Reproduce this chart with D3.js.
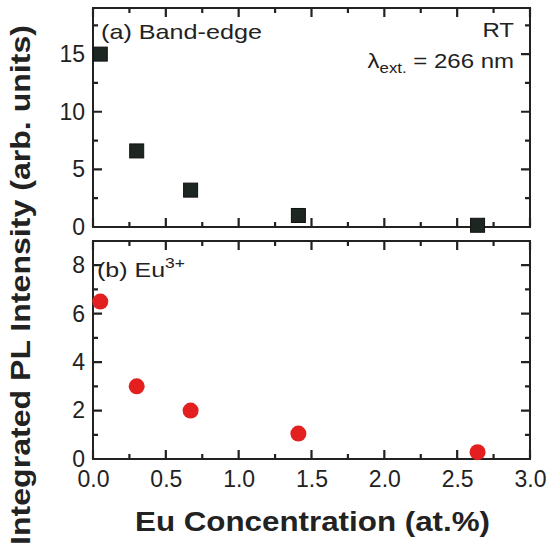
<!DOCTYPE html>
<html>
<head>
<meta charset="utf-8">
<script src="https://cdn.jsdelivr.net/npm/d3@7"></script>
<style>
  body { margin: 0; background: #fff; }
  svg text { font-family: "Liberation Sans", Arial, Helvetica, sans-serif; fill: #222; }
</style>
</head>
<body>
<div id="chart"></div>
<script>
// Eu concentration (at.%) for each sample
const euConc = [0.05, 0.30, 0.67, 1.41, 2.64];
// (a) band-edge integrated PL
const bandEdge = [15.0, 6.6, 3.2, 1.0, 0.15];
// (b) Eu3+ integrated PL
const euEmission = [6.5, 3.0, 2.0, 1.05, 0.28];

const xTicks = [0, 0.5, 1.0, 1.5, 2.0, 2.5, 3.0];
const topTicks = [0, 5, 10, 15];
const botTicks = [0, 2, 4, 6, 8];

const W = 557, H = 548;
const left = 93, right = 530;
const ink = "#222";

const svg = d3.select("#chart").append("svg")
  .attr("width", W).attr("height", H);

const x = d3.scaleLinear().domain([0, 3]).range([left, right]);

const panels = [
  { top: 8, bottom: 227, y: d3.scaleLinear().domain([0, 19]).range([227, 8]),
    ticks: topTicks, minor: d3.range(2.5, 19, 5), values: bandEdge, shape: "square" },
  { top: 241, bottom: 459, y: d3.scaleLinear().domain([0, 9]).range([459, 241]),
    ticks: botTicks, minor: d3.range(1, 9, 2), values: euEmission, shape: "circle" }
];

const xMinor = d3.range(0.25, 3, 0.5);
const majorLen = 9, minorLen = 5;

panels.forEach(function(p, i){
  const g = svg.append("g");
  const h = p.bottom - p.top;
  const w = right - left;

  // tick labels from d3 axes
  if (i == 1) {
    g.append("g").attr("transform", `translate(0,${p.bottom})`)
      .call(d3.axisBottom(x).tickValues(xTicks).tickSize(0).tickPadding(0).tickFormat(d3.format(".1f")))
      .call(a => a.selectAll("text").attr("y", 12).style("font-size", "23px"));
  }
  g.append("g").attr("transform", `translate(${left},0)`)
    .call(d3.axisLeft(p.y).tickValues(p.ticks).tickSize(0).tickPadding(0).tickFormat(d3.format("d")))
    .call(a => a.selectAll("text").attr("x", -8).style("font-size", "23px"));
  g.selectAll(".domain").remove();
  g.selectAll(".tick line").remove();
  g.selectAll(".tick text").attr("fill", ink);

  g.append("rect")
    .attr("x", left).attr("y", p.top).attr("width", w).attr("height", h)
    .attr("fill", "none").attr("stroke", ink).attr("stroke-width", 2);

  // inward tick marks on all four sides
  const xt = xTicks.map(v => [v, majorLen]).concat(xMinor.map(v => [v, minorLen]));
  const yt = p.ticks.map(v => [v, majorLen]).concat(p.minor.map(v => [v, minorLen]));
  let path = "";
  xt.forEach(function(t){
    const px = x(t[0]);
    path += `M${px},${p.bottom}V${p.bottom - t[1]}M${px},${p.top}V${p.top + t[1]}`;
  });
  yt.forEach(function(t){
    const py = p.y(t[0]);
    path += `M${left},${py}H${left + t[1]}M${right},${py}H${right - t[1]}`;
  });
  g.append("path").attr("d", path)
    .attr("fill", "none").attr("stroke", ink).attr("stroke-width", 2.2);

  const pts = euConc.map((c, k) => ({ c: c, v: p.values[k] }));
  if (p.shape == "square") {
    g.selectAll("rect.pt").data(pts).join("rect")
      .attr("class", "pt")
      .attr("x", d => x(d.c) - 7).attr("y", d => p.y(d.v) - 7)
      .attr("width", 14).attr("height", 14)
      .attr("fill", "#1e2621").attr("stroke", "#111").attr("stroke-width", 1);
  } else {
    g.selectAll("circle.pt").data(pts).join("circle")
      .attr("class", "pt")
      .attr("cx", d => x(d.c)).attr("cy", d => p.y(d.v))
      .attr("r", 8)
      .attr("fill", "#e3201f");
  }
});

// panel labels (the scanned figure is a bit wider than tall, so stretch text)
function label(px, py, anchor, sx){
  return svg.append("text")
    .attr("transform", `translate(${px},${py}) scale(${sx},1)`)
    .attr("text-anchor", anchor)
    .style("font-size", "20px");
}
label(101, 39, "start", 1.26).text("(a) Band-edge");
label(514, 37, "end", 1.2).text("RT");
const lam = label(514, 68, "end", 1.2);
lam.append("tspan").text("λ");
lam.append("tspan").attr("dy", 5).style("font-size", "14px").text("ext.");
lam.append("tspan").attr("dy", -5).text(" = 266 nm");

const eu = label(97, 277, "start", 1.25);
eu.append("tspan").text("(b) Eu");
eu.append("tspan").attr("dy", -9).style("font-size", "14px").text("3+");

// axis titles
svg.append("text")
  .attr("x", 135).attr("y", 531)
  .attr("textLength", 355).attr("lengthAdjust", "spacingAndGlyphs")
  .style("font-size", "27px").style("font-weight", "bold")
  .text("Eu Concentration (at.%)");

svg.append("text")
  .attr("transform", "translate(30,545) rotate(-90)")
  .attr("textLength", 520).attr("lengthAdjust", "spacingAndGlyphs")
  .style("font-size", "27px").style("font-weight", "bold")
  .text("Integrated PL Intensity (arb. units)");
</script>
</body>
</html>
